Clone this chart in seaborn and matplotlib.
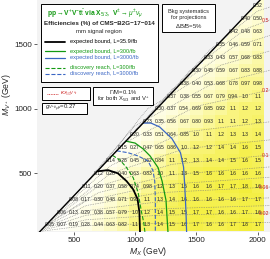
import numpy as np
import pandas as pd
import matplotlib
matplotlib.use("Agg")
import matplotlib.pyplot as plt
import seaborn as sns
from matplotlib.colors import LinearSegmentedColormap
from matplotlib.patches import Polygon, Rectangle
from matplotlib.lines import Line2D

sns.set_theme(style="white")
plt.rcParams['font.family'] = ['Liberation Sans', 'DejaVu Sans']
plt.rcParams['mathtext.fontset'] = 'custom'
plt.rcParams['mathtext.rm'] = 'Liberation Sans'
plt.rcParams['mathtext.it'] = 'Liberation Sans:italic'
plt.rcParams['mathtext.bf'] = 'Liberation Sans:bold'

# ---------------- data ----------------
mx_values = list(range(300, 2001, 100))
mv_values = list(range(100, 1801, 100))
mt_offset = 175  # kinematic boundary M_V = M_X - m_t

# efficiencies (%) per M_V row, starting at M_X = M_V + 200
eff_100 = [0.05, 0.07, 0.19, 0.28, 0.44, 0.63, 0.82, 1.1, 1.3, 1.4, 1.5, 1.6, 1.7, 1.6, 1.6, 1.7, 1.8, 1.7]
eff_200 = [0.06, 0.13, 0.29, 0.38, 0.57, 0.79, 1.0, 1.2, 1.4, 1.5, 1.5, 1.7, 1.7, 1.6, 1.6, 1.7, 1.6]
eff_300 = [0.08, 0.17, 0.30, 0.48, 0.71, 0.92, 1.1, 1.3, 1.4, 1.6, 1.6, 1.6, 1.6, 1.6, 1.7, 1.7]
eff_400 = [0.11, 0.20, 0.37, 0.58, 0.74, 0.98, 1.2, 1.3, 1.5, 1.6, 1.6, 1.7, 1.7, 1.8, 1.6]
eff_500 = [0.12, 0.28, 0.40, 0.63, 0.83, 1.0, 1.1, 1.3, 1.5, 1.6, 1.6, 1.6, 1.6, 1.6]
eff_600 = [0.14, 0.28, 0.45, 0.62, 0.84, 1.1, 1.2, 1.3, 1.4, 1.4, 1.5, 1.6, 1.5]
eff_700 = [0.15, 0.27, 0.47, 0.65, 0.86, 1.0, 1.2, 1.2, 1.4, 1.4, 1.6, 1.5]
eff_800 = [0.20, 0.33, 0.51, 0.64, 0.85, 1.0, 1.1, 1.2, 1.3, 1.3, 1.4]
eff_900 = [0.23, 0.35, 0.56, 0.67, 0.80, 0.93, 1.1, 1.1, 1.2, 1.3]
eff_1000 = [0.30, 0.37, 0.54, 0.69, 0.85, 0.92, 1.1, 1.2, 1.2]
eff_1100 = [0.37, 0.38, 0.55, 0.67, 0.79, 0.94, 1.0, 1.1]
eff_1200 = [0.38, 0.40, 0.53, 0.68, 0.78, 0.97, 0.98]
eff_1300 = [0.30, 0.45, 0.59, 0.67, 0.83, 0.88]
eff_1400 = [0.33, 0.43, 0.57, 0.68, 0.83]
eff_1500 = [0.35, 0.46, 0.59, 0.71]
eff_1600 = [0.42, 0.48, 0.63]
eff_1700 = [0.40, 0.50]
eff_1800 = [0.52]
eff_rows = [eff_100, eff_200, eff_300, eff_400, eff_500, eff_600, eff_700, eff_800, eff_900,
            eff_1000, eff_1100, eff_1200, eff_1300, eff_1400, eff_1500, eff_1600, eff_1700, eff_1800]

# contour lines (M_X, M_V)
exp_36_mx = [691, 780, 860, 930, 985, 1020, 1035, 1040]
exp_36_mv = [516, 525, 500, 440, 375, 300, 200, 45]
disc_300_mx = [815, 880, 930, 985, 1025, 1050, 1070, 1080]
disc_300_mv = [640, 600, 545, 465, 350, 210, 120, 45]
disc_3000_mx = [850, 943, 1024, 1106, 1146, 1160, 1165, 1165]
disc_3000_mv = [675, 660, 635, 595, 520, 440, 300, 45]
exp_300_mx = [925, 1000, 1065, 1122, 1187, 1220, 1252, 1268]
exp_300_mv = [750, 735, 690, 635, 545, 440, 290, 45]
exp_3000_mx = [1065, 1130, 1200, 1300, 1370, 1395, 1405, 1415, 1420]
exp_3000_mv = [890, 890, 860, 770, 660, 550, 400, 200, 45]

# kappa (coupling) iso-lines: (M_X points, M_V points)
kappa_labels = ["", "0.02", "", "", "0.06", "", "", "0.1", "", "", "0.2", "", "", "", "0.5", ""]
kappa_mx = [[225, 600, 1200, 2100], [232, 600, 1200, 2100], [240, 600, 1200, 2100],
            [250, 600, 1200, 2100], [262, 600, 1200, 2100], [275, 600, 1200, 2100],
            [290, 700, 1300, 2100], [310, 700, 1300, 2100], [340, 800, 1400, 2100],
            [380, 800, 1400, 2100], [450, 900, 1500, 2100], [560, 1000, 1600, 2100],
            [700, 1100, 1700, 2100], [850, 1300, 1800, 2100], [1000, 1450, 1900, 2100],
            [1200, 1600, 2000, 2100]]
kappa_mv = [[50, 95, 112, 120], [57, 140, 175, 192], [65, 175, 225, 250],
            [75, 210, 280, 310], [87, 250, 350, 394], [100, 285, 410, 470],
            [115, 350, 490, 550], [135, 400, 570, 642], [165, 500, 690, 760],
            [205, 560, 820, 900], [275, 730, 1020, 1147], [385, 870, 1180, 1300],
            [525, 1000, 1340, 1450], [675, 1150, 1480, 1570], [825, 1300, 1620, 1690],
            [1025, 1450, 1760, 1790]]

# ---------------- figure ----------------
W, H = 270, 259
fig = plt.figure(figsize=(W / 100, H / 100), dpi=100)
ax = fig.add_axes([37 / W, (H - 232) / H, (W - 37) / W, 232 / H])
ax.set_facecolor('#f3f3f3')
xmin, xmax, ymin, ymax = 200, 2100, 45, 1845

# heat map
Z = np.full((len(mv_values), len(mx_values)), np.nan)
for i, (mv, row) in enumerate(zip(mv_values, eff_rows)):
    for k, v in enumerate(row):
        j = mx_values.index(mv + 200 + 100 * k)
        Z[i, j] = v
xe = np.array(mx_values + [mx_values[-1] + 100]) - 50
ye = np.array(mv_values + [mv_values[-1] + 100]) - 50
cmap = LinearSegmentedColormap.from_list('wy', ['#ffffff', '#fdfbc8', '#f8f372', '#f3ee3c'])
mesh = ax.pcolormesh(xe, ye, np.ma.masked_invalid(Z), cmap=cmap, vmin=0.0, vmax=1.8,
                     shading='flat', zorder=1)
clip = Polygon([(xmin, xmin - mt_offset), (xmax + 200, xmax + 200 - mt_offset),
                (xmax + 200, 0), (xmin, 0)], transform=ax.transData)
mesh.set_clip_path(clip)

# kappa dotted lines
for xs, ys, lab in zip(kappa_mx, kappa_mv, kappa_labels):
    ax.plot(xs, ys, ls=(0, (1, 1.5)), color='#7a7a7a', lw=0.5, zorder=2)
    if lab:
        ax.text(xmax - 5, ys[-1] - 5, lab, color='#cc2222',
                fontsize=3.8, ha='right', va='center', zorder=6)

# cell texts
for i, mv in enumerate(mv_values):
    for j, mx in enumerate(mx_values):
        v = Z[i, j]
        if np.isnan(v):
            continue
        s = f"{v:.2f}" if v < 1 else f"{v:.1f}"
        ax.text(mx, mv, s, fontsize=3.6, ha='center', va='center', color='#222222', zorder=3)

# boundary line
bx = np.array([xmin, xmax])
ax.plot(bx, bx - mt_offset, color='black', lw=1.0, zorder=5)

# contours
green, blue = '#129912', '#3a66c4'
cont = [
    (exp_36_mx, exp_36_mv, 'black', '-', 1.3),
    (disc_300_mx, disc_300_mv, green, '--', 0.8),
    (disc_3000_mx, disc_3000_mv, blue, '--', 0.8),
    (exp_300_mx, exp_300_mv, green, '-', 0.9),
    (exp_3000_mx, exp_3000_mv, blue, '-', 0.9),
]
for xs, ys, c, ls, lw in cont:
    df = pd.DataFrame({'mx': xs, 'mv': ys})
    sns.lineplot(data=df, x='mx', y='mv', sort=False, estimator=None, color=c,
                 linestyle=ls, lw=lw, ax=ax, zorder=4)

ax.set_xlim(xmin, xmax)
ax.set_ylim(ymin, ymax)
ax.set_xticks([500, 1000, 1500, 2000])
ax.set_yticks([500, 1000, 1500])
ax.tick_params(axis='both', labelsize=5.8, length=2, width=0.5, pad=1.5,
               left=True, bottom=True, colors='#222222')
for s in ax.spines.values():
    s.set_visible(False)
ax.set_xlabel(r"$M_X$ (GeV)", fontsize=6.2)
ax.set_ylabel(r"$M_{V^+}$ (GeV)", fontsize=6.2)
ax.xaxis.set_label_coords((148 - 37) / (W - 37), -(245 - 232) / 232)
ax.yaxis.set_label_coords(-(37 - 13) / (W - 37), (232 - 95) / 232)

# ---------------- annotation boxes (figure pixel coords) ----------------
def fx(px):
    return px / W
def fy(py):
    return 1 - py / H

def box(x0, y0, x1, y1):
    fig.add_artist(Rectangle((fx(x0), fy(y1)), fx(x1) - fx(x0), fy(y0) - fy(y1),
                             transform=fig.transFigure, facecolor='white',
                             edgecolor='black', lw=0.7, zorder=10))

def txt(x, y, s, **kw):
    kw.setdefault('fontsize', 4.3)
    kw.setdefault('va', 'center')
    fig.text(fx(x), fy(y), s, zorder=11, **kw)

box(41, 4, 158, 82)
txt(47, 14, r"pp$\rightarrow$V$^{+}$V$^{-}$t$\bar{\rm t}$ via X$_{5/3}$,  V$^{\pm}\rightarrow\mu^{\pm}\nu_{\mu}$",
    color=green, fontweight='bold', fontsize=4.8)
txt(44, 24, "Efficiencies (%) of CMS\u2212B2G\u221217\u2212014", fontweight='bold', fontsize=4.5)
txt(99, 31, "mm signal region", ha='center', fontsize=4.3)
leg = [("expected bound, L=35.9/fb", 'black', '-', 1.3, 42),
       ("expected bound, L=300/fb", green, '-', 0.9, 51),
       ("expected bound, L=3000/fb", blue, '-', 0.9, 58),
       ("discovery reach, L=300/fb", green, '--', 0.8, 68),
       ("discovery reach, L=3000/fb", blue, '--', 0.8, 74)]
for s, c, ls, lw, y in leg:
    fig.add_artist(Line2D([fx(45), fx(65)], [fy(y), fy(y)], color=c, ls=ls, lw=lw,
                          transform=fig.transFigure, zorder=11))
    txt(70, y, s, color=c, fontsize=4.1)

box(162, 4, 215, 32)
txt(188.5, 11, "Bkg systematics", ha='center', fontsize=4.1)
txt(188.5, 18, "for projections", ha='center', fontsize=4.1)
txt(188.5, 26, r"$\Delta$B/B=5%", ha='center', fontsize=4.3)

box(42, 87, 90, 100)
fig.add_artist(Line2D([fx(47), fx(58)], [fy(93.5), fy(93.5)], color='#cc2222', ls=(0, (1, 1)),
                      lw=0.6, transform=fig.transFigure, zorder=11))
txt(60, 93.5, r"$\kappa_{X_{5/3}V^{+}t}$", color='#cc2222', fontsize=4.3)

box(42, 103, 87, 114)
txt(45, 108.5, r"$g_{V^{+}\bar{\nu}_{\mu}\mu}$=0.27", fontsize=4.3)

box(93, 87, 153, 105)
txt(123, 92, r"$\Gamma$/M=0.1%", ha='center', fontsize=4.2)
txt(123, 99.5, r"for both X$_{5/3}$ and V$^{+}$", ha='center', fontsize=4.2)

fig.savefig("out.png", dpi=100)
